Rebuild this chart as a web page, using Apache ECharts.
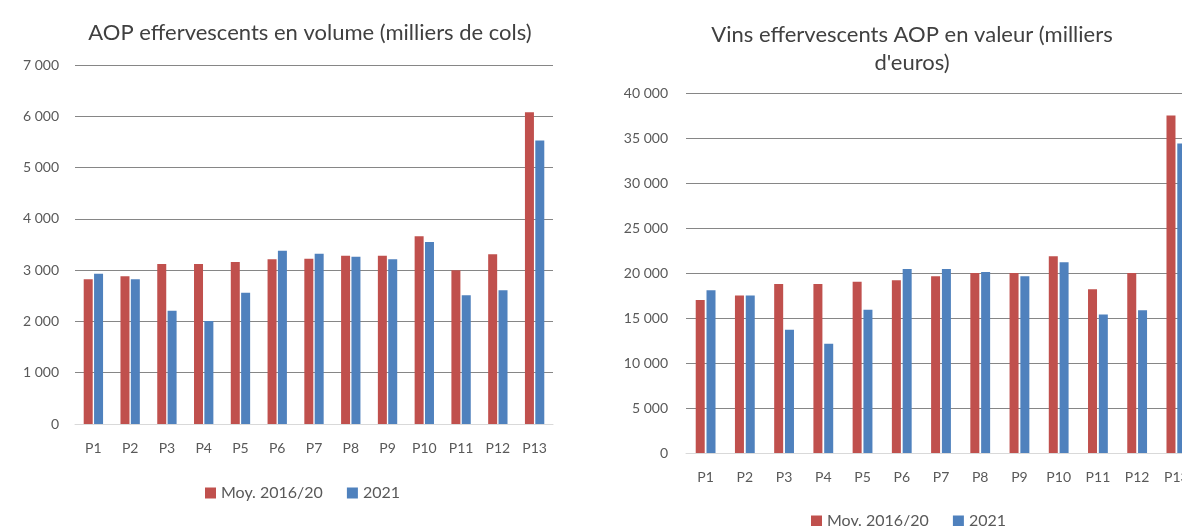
<!DOCTYPE html>
<html>
<head>
<meta charset="utf-8">
<script src="https://cdn.jsdelivr.net/npm/echarts@6/dist/echarts.min.js"></script>
<style>
    html, body { margin: 0; padding: 0; background: #fff; }
    #main { width: 1182px; height: 526px; }
</style>
</head>
<body>
<div id="main"></div>
<script>
    // periodes
    var periods = ['P1', 'P2', 'P3', 'P4', 'P5', 'P6', 'P7', 'P8', 'P9', 'P10', 'P11', 'P12', 'P13'];
    var legendNames = ['Moy. 2016/20', '2021'];

    // volume (milliers de cols)
    var volMoy = [2820, 2880, 3120, 3120, 3160, 3210, 3220, 3280, 3280, 3660, 3000, 3310, 6080];
    var vol2021 = [2930, 2820, 2210, 2010, 2560, 3380, 3320, 3260, 3210, 3550, 2510, 2610, 5530];

    // valeur (milliers d'euros)
    var valMoy = [17000, 17500, 18780, 18780, 19040, 19190, 19630, 20000, 20000, 21860, 18190, 20000, 37500];
    var val2021 = [18070, 17500, 13700, 12150, 15930, 20440, 20440, 20100, 19630, 21200, 15400, 15850, 34400];

    var red = '#C0504D';
    var blue = '#4F81BD';
    var font = 'Lato';

    function fmt(v) {
        return String(v).replace(/\B(?=(\d{3})+(?!\d))/g, ' ');
    }

    var chartDom = document.getElementById('main');
    var myChart = echarts.init(chartDom);

    var xAxisStyle = {
        type: 'category',
        data: periods,
        axisTick: { show: false },
        axisLine: { lineStyle: { color: '#d9d9d9' } },
        axisLabel: { color: '#595959', fontFamily: font, fontSize: 14, margin: 17 }
    };
    var legendStyle = {
        data: legendNames,
        icon: 'rect', itemWidth: 11, itemHeight: 11, itemGap: 24,
        textStyle: { fontFamily: font, fontSize: 16, color: '#595959' }
    };

    var option = {
        animation: false,
        title: [
            {
                text: 'AOP effervescents en volume (milliers de cols)',
                left: 305, top: 17, textAlign: 'center',
                textStyle: { fontFamily: font, fontWeight: 'normal', fontSize: 22, color: '#404040' }
            },
            {
                text: 'Vins effervescents AOP en valeur (milliers\nd\'euros)',
                left: 907, top: 16, textAlign: 'center',
                textStyle: { fontFamily: font, fontWeight: 'normal', fontSize: 22, color: '#404040', lineHeight: 28 }
            }
        ],
        legend: [
            Object.assign({ left: 200, top: 480 }, legendStyle),
            Object.assign({ left: 806, top: 508 }, legendStyle)
        ],
        grid: [
            { left: 75, width: 478, top: 65, bottom: 102, outerBoundsMode: 'none' },
            // le graphique de droite déborde du cadre (P13 coupé)
            { left: 686, width: 510, top: 93, bottom: 73, outerBoundsMode: 'none' }
        ],
        xAxis: [
            Object.assign({ gridIndex: 0 }, xAxisStyle),
            Object.assign({ gridIndex: 1 }, xAxisStyle)
        ],
        yAxis: [
            {
                gridIndex: 0, type: 'value', min: 0, max: 7000, interval: 1000,
                axisLabel: { color: '#595959', fontFamily: font, fontSize: 14, margin: 16, formatter: fmt },
                splitLine: { lineStyle: { color: '#868686', width: 1 } }
            },
            {
                gridIndex: 1, type: 'value', min: 0, max: 40000, interval: 5000,
                axisLabel: { color: '#595959', fontFamily: font, fontSize: 14, margin: 18, formatter: fmt },
                splitLine: { lineStyle: { color: '#868686', width: 1 } }
            }
        ],
        series: [
            { name: legendNames[0], type: 'bar', xAxisIndex: 0, yAxisIndex: 0, data: volMoy,
              barWidth: 9, barGap: '15%', itemStyle: { color: red } },
            { name: legendNames[1], type: 'bar', xAxisIndex: 0, yAxisIndex: 0, data: vol2021,
              barWidth: 9, barGap: '15%', itemStyle: { color: blue } },
            { name: legendNames[0], type: 'bar', xAxisIndex: 1, yAxisIndex: 1, data: valMoy,
              barWidth: 9, barGap: '20%', itemStyle: { color: red } },
            { name: legendNames[1], type: 'bar', xAxisIndex: 1, yAxisIndex: 1, data: val2021,
              barWidth: 9, barGap: '20%', itemStyle: { color: blue } }
        ]
    };

    myChart.setOption(option);
</script>
</body>
</html>
